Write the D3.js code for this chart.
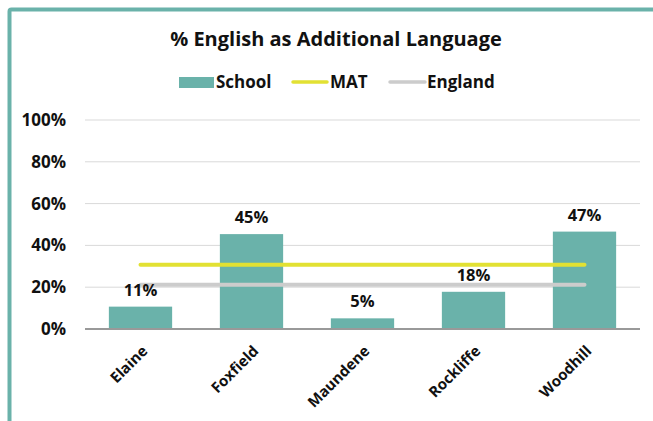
<!DOCTYPE html>
<html>
<head>
<meta charset="utf-8">
<script src="https://cdn.jsdelivr.net/npm/d3@7"></script>
<style>
    body { margin: 0; background: #fff; }
    text { font-family: "Open Sans", sans-serif; font-weight: 700; fill: #111; }
</style>
</head>
<body>
<div id="chart"></div>
<script>
// Chart data
const schools = ['Elaine', 'Foxfield', 'Maundene', 'Rockliffe', 'Woodhill'];
const schoolValues = [0.107, 0.454, 0.051, 0.178, 0.466];
const matValue = 0.308;
const englandValue = 0.212;
const yTicks = [0, 0.2, 0.4, 0.6, 0.8, 1.0];

const WIDTH = 653;
const HEIGHT = 421;
const margin = { top: 120, right: 13, bottom: 92, left: 85 };

const teal = '#6ab2aa';
const yellow = '#e2e133';
const grey = '#cccccc';

const svg = d3.select('#chart')
    .append('svg')
    .attr('width', WIDTH)
    .attr('height', HEIGHT);

// Frame
svg.append('rect')
    .attr('x', 9.5)
    .attr('y', 9.5)
    .attr('rx', 2)
    .attr('width', WIDTH + 20)
    .attr('height', HEIGHT + 20)
    .style('fill', 'none')
    .style('stroke', teal)
    .style('stroke-width', 4);

// Scales
const x = d3.scaleBand()
    .domain(schools)
    .range([margin.left, WIDTH - margin.right])
    .paddingInner(0.43)
    .paddingOuter(0.215);

const y = d3.scaleLinear()
    .domain([0, 1])
    .range([HEIGHT - margin.bottom, margin.top]);

// Title
svg.append('text')
    .attr('x', 336)
    .attr('y', 46)
    .attr('text-anchor', 'middle')
    .style('font-size', '20px')
    .text('% English as Additional Language');

// Legend
const legend = svg.append('g').style('font-size', '17px');
legend.append('rect')
    .attr('x', 179).attr('y', 77)
    .attr('width', 35).attr('height', 11)
    .style('fill', teal);
legend.append('text').attr('x', 216).attr('y', 88).text('School');
legend.append('line')
    .attr('x1', 293).attr('x2', 327).attr('y1', 82).attr('y2', 82)
    .style('stroke', yellow).style('stroke-width', 3.5).style('stroke-linecap', 'round');
legend.append('text').attr('x', 330).attr('y', 88).text('MAT');
legend.append('line')
    .attr('x1', 390).attr('x2', 425).attr('y1', 82).attr('y2', 82)
    .style('stroke', grey).style('stroke-width', 3.5).style('stroke-linecap', 'round');
legend.append('text').attr('x', 427).attr('y', 88).text('England');

// Gridlines
svg.append('g')
    .selectAll('line')
    .data(yTicks.filter(d => d > 0))
    .join('line')
    .attr('x1', margin.left)
    .attr('x2', WIDTH - margin.right)
    .attr('y1', d => y(d))
    .attr('y2', d => y(d))
    .style('stroke', '#d9d9d9')
    .style('stroke-width', 1);

// Y axis
const yAxis = svg.append('g')
    .attr('transform', `translate(${margin.left},0)`)
    .call(d3.axisLeft(y).tickValues(yTicks).tickFormat(d3.format('.0%')).tickSize(0).tickPadding(19));
yAxis.select('.domain').remove();
yAxis.selectAll('text')
    .style('font-size', '17px')
    .style('font-family', '"Open Sans", sans-serif')
    .style('fill', '#111');

// Bars
svg.append('g')
    .selectAll('rect')
    .data(schools)
    .join('rect')
    .attr('x', d => x(d))
    .attr('width', x.bandwidth())
    .attr('y', (d, i) => y(schoolValues[i]))
    .attr('height', (d, i) => y(0) - y(schoolValues[i]))
    .style('fill', teal);

// Baseline
svg.append('line')
    .attr('x1', margin.left)
    .attr('x2', WIDTH - margin.right)
    .attr('y1', y(0))
    .attr('y2', y(0))
    .style('stroke', '#999')
    .style('stroke-width', 2);

// MAT and England lines
const xFirst = x(schools[0]) + x.bandwidth() / 2;
const xLast = x(schools[schools.length - 1]) + x.bandwidth() / 2;
const refLine = (value, colour) => svg.append('line')
    .attr('x1', xFirst)
    .attr('x2', xLast)
    .attr('y1', y(value))
    .attr('y2', y(value))
    .style('stroke', colour)
    .style('stroke-width', 4)
    .style('stroke-linecap', 'round');
refLine(englandValue, grey);
refLine(matValue, yellow);

// Bar labels
svg.append('g')
    .selectAll('text')
    .data(schools)
    .join('text')
    .attr('x', d => x(d) + x.bandwidth() / 2)
    .attr('y', (d, i) => y(schoolValues[i]) - 11)
    .attr('text-anchor', 'middle')
    .style('font-size', '16.5px')
    .text((d, i) => d3.format('.0%')(schoolValues[i]));

// X labels
svg.append('g')
    .selectAll('text')
    .data(schools)
    .join('text')
    .attr('text-anchor', 'end')
    .attr('transform', d => `translate(${x(d) + x.bandwidth() / 2 + 8},${y(0) + 23}) rotate(-45)`)
    .style('font-size', '15px')
    .text(d => d);
</script>
</body>
</html>
